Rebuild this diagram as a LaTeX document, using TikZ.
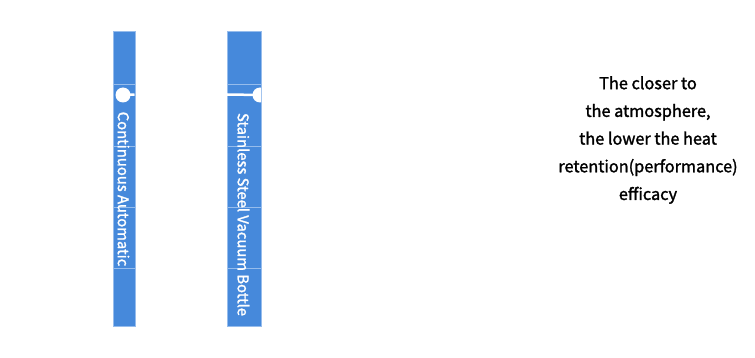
\documentclass[tikz,border=0pt]{standalone}
\usepackage{fontspec}
\setmainfont{Noto Sans CJK SC}
\newfontfamily\medfont[FakeBold=1.6]{Noto Sans CJK SC}
\definecolor{barblue}{RGB}{70,137,219}
\definecolor{lineblue}{RGB}{150,188,236}
\begin{document}
\begin{tikzpicture}[x=1pt,y=-1pt,
  bar/.style={fill=barblue,draw=lineblue,line width=0.8pt},
  divider/.style={draw=lineblue,line width=0.8pt},
  wline/.style={draw=white,line width=2.5pt},
  dot/.style={circle,fill=white,inner sep=0pt,minimum size=15pt},
  vtext/.style={text=white,font=\medfont\fontsize{14.8}{16}\selectfont,rotate=-90,inner sep=0pt},
  note/.style={align=center,font=\medfont\fontsize{16.3}{27.7}\selectfont,text=black}]
\useasboundingbox (0,0) rectangle (755,358);
% bar 1
\node[bar,minimum width=22pt,minimum height=295pt,inner sep=0pt,anchor=north west] (b1) at (112.5,31) {};
\foreach \yy in {84,146,207,268} \draw[divider] (112.5,\yy) -- (134.5,\yy);
\node[dot] (d1) at (123,95) {};
\coordinate (e1) at (134.5,94.5);
\draw[wline] (d1.center) -- (e1);
\node[vtext] (t1) at (123.5,189) {Continuous Automatic};
% bar 2
\node[bar,minimum width=34pt,minimum height=295pt,inner sep=0pt,anchor=north west] (b2) at (227,31) {};
\foreach \yy in {84,146,207,268} \draw[divider] (227,\yy) -- (261,\yy);
\coordinate (e2) at (227,94.5);
\begin{scope}
\clip (227,31) rectangle (261,326);
\node[dot] (d2) at (260,95) {};
\draw[wline] (e2) -- (d2.center);
\end{scope}
\node[vtext] (t2) at (243.5,214.5) {Stainless Steel Vacuum Bottle};
% note
\node[note] (n) at (648,140) {The closer to\\the atmosphere,\\the lower the heat\\retention(performance)\\efficacy};
\end{tikzpicture}
\end{document}
